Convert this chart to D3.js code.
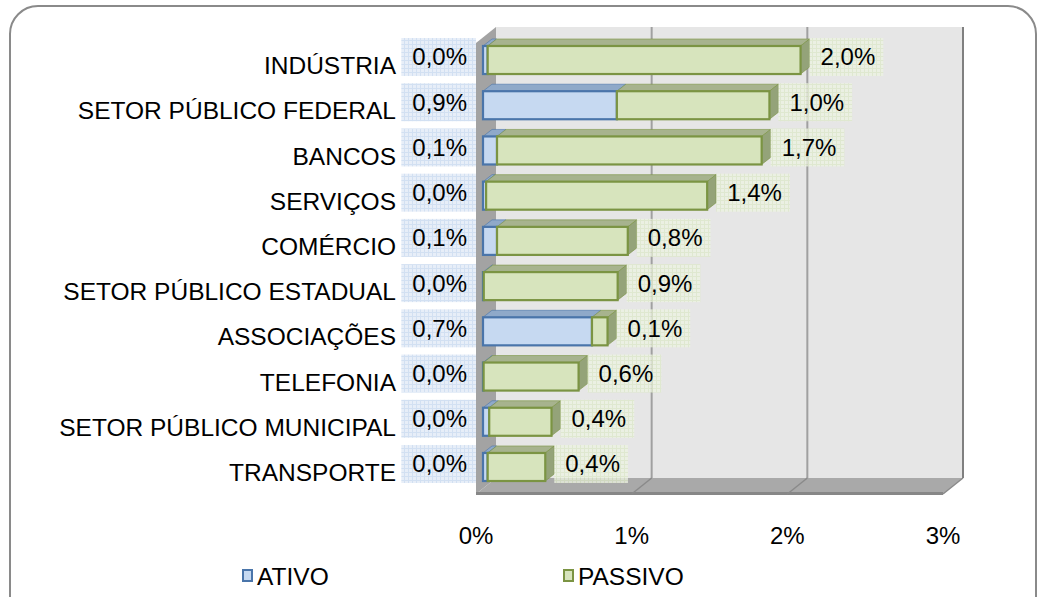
<!DOCTYPE html>
<html>
<head>
<meta charset="utf-8">
<script src="https://cdn.jsdelivr.net/npm/d3@7"></script>
<style>
  html, body { margin: 0; padding: 0; background: #ffffff; }
  svg { display: block; }
  text { font-family: "Liberation Sans", Arial, sans-serif; fill: #000; }
</style>
</head>
<body>
<svg id="chart" width="1039" height="597"></svg>
<script>
// ---- data ----
const categories = ["INDÚSTRIA", "SETOR PÚBLICO FEDERAL", "BANCOS", "SERVIÇOS", "COMÉRCIO",
  "SETOR PÚBLICO ESTADUAL", "ASSOCIAÇÕES", "TELEFONIA", "SETOR PÚBLICO MUNICIPAL", "TRANSPORTE"];
const ativo   = [0.03, 0.86, 0.09, 0.02, 0.09, 0.005, 0.70, 0.004, 0.04, 0.03];
const passivo = [2.01, 0.98, 1.70, 1.42, 0.84, 0.86, 0.10, 0.61, 0.40, 0.37];
const xTicks = [0, 1, 2, 3];
const seriesNames = ["ATIVO", "PASSIVO"];

// ---- layout ----
const svg = d3.select("#chart");
const fmt = v => d3.format(".1f")(v).replace(".", ",") + "%";

const x = d3.scaleLinear().domain([0, 3]).range([476, 943]);   // front plane
const y = d3.scaleBand().domain(categories).range([37.4, 489.6]).paddingInner(0.38).paddingOuter(0.19);
const depth = { dx: 20, dy: -16 };      // wall depth
const barOff = { dx: 7, dy: 0 };        // bar front offset
const barDepth = { dx: 9, dy: -7 };

const colors = {
  ativo:   { front: "#c6d9f1", top: "#8fa9c9", side: "#7f9bc0", stroke: "#4a75aa" },
  passivo: { front: "#d7e4bd", top: "#a7b38e", side: "#94a379", stroke: "#7b9443" }
};

// patterns
const defs = svg.append("defs");
function gridPattern(id, bg, line) {
  const p = defs.append("pattern").attr("id", id).attr("width", 4).attr("height", 4)
    .attr("patternUnits", "userSpaceOnUse");
  p.append("rect").attr("width", 4).attr("height", 4).attr("fill", bg);
  p.append("path").attr("d", "M0,0.5H4M0.5,0V4").attr("stroke", line).attr("stroke-width", 1);
}
gridPattern("gridBlue", "#e4ecf7", "#cddcf0");
gridPattern("gridGreen", "#edf3e2", "#dde8c8");

// outer rounded border
svg.append("rect").attr("x", 10).attr("y", 6).attr("width", 1026).attr("height", 620)
  .attr("rx", 28).attr("ry", 28).attr("fill", "#fff").attr("stroke", "#8a8a8a").attr("stroke-width", 2);

const yTopFront = 43, yBotFront = 494;
const x0f = x(0), x3f = x(3);

// back wall
svg.append("rect").attr("x", x0f + depth.dx).attr("y", yTopFront + depth.dy)
  .attr("width", x3f - x0f).attr("height", yBotFront - yTopFront).attr("fill", "#e6e6e6");
// left wall
svg.append("path").attr("d", `M${x0f},${yTopFront}L${x0f + depth.dx},${yTopFront + depth.dy}L${x0f + depth.dx},${yBotFront + depth.dy}L${x0f},${yBotFront}Z`)
  .attr("fill", "#a3a3a3");
// floor
svg.append("path").attr("d", `M${x0f},${yBotFront}L${x0f + depth.dx},${yBotFront + depth.dy}L${x3f + depth.dx},${yBotFront + depth.dy}L${x3f},${yBotFront}Z`)
  .attr("fill", "#a9a9a9");
svg.append("rect").attr("x", x0f).attr("y", yBotFront - 2).attr("width", x3f - x0f).attr("height", 3).attr("fill", "#878787");

// gridlines on back wall and floor
xTicks.filter(t => t > 0).forEach(t => {
  const xb = x(t) + depth.dx;
  svg.append("line").attr("x1", xb).attr("x2", xb).attr("y1", yTopFront + depth.dy)
    .attr("y2", yBotFront + depth.dy).attr("stroke", t === 3 ? "#808080" : "#a0a0a0").attr("stroke-width", 2);
  svg.append("line").attr("x1", xb).attr("y1", yBotFront + depth.dy).attr("x2", x(t)).attr("y2", yBotFront)
    .attr("stroke", "#8a8a8a").attr("stroke-width", 1.5);
});

// bars
const h = y.bandwidth();
function box(g, x0, x1, yy, c, side) {
  const dx = barDepth.dx, dy = barDepth.dy;
  g.append("path").attr("d", `M${x0},${yy}L${x0 + dx},${yy + dy}L${x1 + dx},${yy + dy}L${x1},${yy}Z`)
    .attr("fill", c.top).attr("stroke", c.stroke).attr("stroke-width", 1).attr("stroke-opacity", 0.6);
  if (side) {
    g.append("path").attr("d", `M${x1},${yy}L${x1 + dx},${yy + dy}L${x1 + dx},${yy + h + dy}L${x1},${yy + h}Z`)
      .attr("fill", c.side).attr("stroke", c.stroke).attr("stroke-width", 1).attr("stroke-opacity", 0.6);
  }
  g.append("rect").attr("x", x0).attr("y", yy).attr("width", Math.max(0, x1 - x0)).attr("height", h)
    .attr("fill", c.front).attr("stroke", c.stroke).attr("stroke-width", 2.2);
}

const barsG = svg.append("g");
categories.forEach((cat, i) => {
  const yy = y(cat);
  const xa0 = x(0) + barOff.dx, xa1 = x(ativo[i]) + barOff.dx, xp1 = x(ativo[i] + passivo[i]) + barOff.dx;
  const g = barsG.append("g");
  box(g, xa0, xa1, yy, colors.ativo, false);
  box(g, xa1, xp1, yy, colors.passivo, true);
});

// labels
const fontSize = 24;
const labelsG = svg.append("g");
categories.forEach((cat, i) => {
  const cy = y(cat) + h / 2;
  // category label
  labelsG.append("text").attr("x", 396).attr("y", cy + 5.5).attr("dy", "0.35em")
    .attr("text-anchor", "end").attr("font-size", 24.5).text(cat);

  // ativo label
  const ta = labelsG.append("text").attr("x", x(0) - 9).attr("y", cy - 3).attr("dy", "0.35em")
    .attr("text-anchor", "end").attr("font-size", fontSize).text(fmt(ativo[i]));
  const wa = ta.node().getComputedTextLength();
  labelsG.insert("rect", () => ta.node()).attr("x", x(0) - 9 - wa - 11).attr("y", cy - 3 - 19)
    .attr("width", wa + 20).attr("height", 38).attr("fill", "url(#gridBlue)").attr("opacity", 0.9);

  // passivo label
  const xEnd = x(ativo[i] + passivo[i]) + barOff.dx + barDepth.dx;
  const tp = labelsG.append("text").attr("x", xEnd + 11).attr("y", cy - 3).attr("dy", "0.35em")
    .attr("font-size", fontSize).text(fmt(passivo[i]));
  const wp = tp.node().getComputedTextLength();
  labelsG.insert("rect", () => tp.node()).attr("x", xEnd).attr("y", cy - 3 - 19)
    .attr("width", wp + 19).attr("height", 38).attr("fill", "url(#gridGreen)").attr("opacity", 0.75);
});

// x axis tick labels
svg.append("g").selectAll("text").data(xTicks).join("text")
  .attr("x", d => x(d)).attr("y", 536).attr("dy", "0.35em").attr("text-anchor", "middle")
  .attr("font-size", fontSize).text(d => d + "%");

// legend
const legend = [
  { name: seriesNames[0], c: colors.ativo, x: 243 },
  { name: seriesNames[1], c: colors.passivo, x: 564 }
];
const lg = svg.append("g");
legend.forEach(l => {
  lg.append("rect").attr("x", l.x).attr("y", 570).attr("width", 9).attr("height", 11)
    .attr("fill", l.c.front).attr("stroke", l.c.stroke).attr("stroke-width", 2);
  lg.append("text").attr("x", l.x + 14).attr("y", 576).attr("dy", "0.35em")
    .attr("font-size", 24.5).text(l.name);
});
</script>
</body>
</html>
